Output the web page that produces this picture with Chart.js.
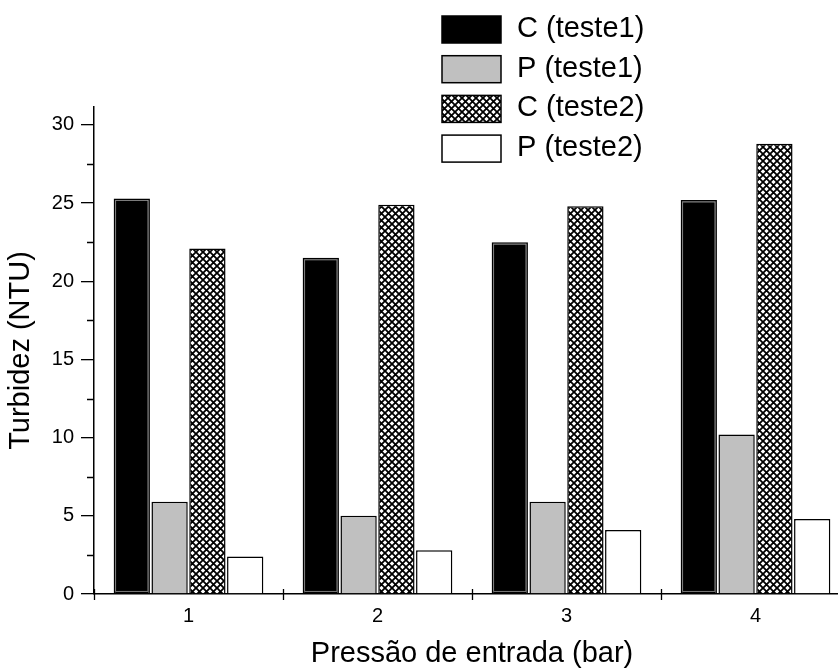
<!DOCTYPE html>
<html>
<head>
<meta charset="utf-8">
<script src="https://cdn.jsdelivr.net/npm/chart.js@4"></script>
<style>
  html, body { margin: 0; padding: 0; background: #fff; overflow: hidden; }
  #wrap { width: 850px; height: 671px; }
</style>
</head>
<body>
<div id="wrap"><canvas id="turbChart" width="850" height="671"></canvas></div>
<script>
// pressão de entrada (bar)
const categories = ['1', '2', '3', '4'];
// turbidez em NTU
const cTeste1 = [25.3, 21.5, 22.5, 25.2];
const pTeste1 = [5.9, 5.0, 5.9, 10.2];
const cTeste2 = [22.1, 24.9, 24.8, 28.8];
const pTeste2 = [2.4, 2.8, 4.1, 4.8];
const seriesLabels = ['C (teste1)', 'P (teste1)', 'C (teste2)', 'P (teste2)'];
const yTicks = [0, 5, 10, 15, 20, 25, 30];
const yMinorTicks = [2.5, 7.5, 12.5, 17.5, 22.5, 27.5];

const FONT = '"Liberation Sans", Arial, sans-serif';
Chart.defaults.font.family = FONT;
Chart.defaults.font.size = 20;
Chart.defaults.color = '#000';

// crosshatch fill
function makeHatch() {
    const c = document.createElement('canvas');
    c.width = 7; c.height = 7;
    const g = c.getContext('2d');
    g.fillStyle = '#fff';
    g.fillRect(0, 0, 7, 7);
    g.strokeStyle = '#000';
    g.lineWidth = 1.8;
    g.beginPath();
    g.moveTo(-1, -1); g.lineTo(8, 8);
    g.moveTo(8, -1); g.lineTo(-1, 8);
    g.stroke();
    return g.createPattern(c, 'repeat');
}

// thin light inner outline on the solid black bars
const innerEdge = {
    id: 'innerEdge',
    afterDatasetsDraw(chart) {
        const ctx = chart.ctx;
        const meta = chart.getDatasetMeta(0);
        ctx.save();
        ctx.strokeStyle = '#9a9a9a';
        ctx.lineWidth = 0.8;
        meta.data.forEach(bar => {
            const p = bar.getProps(['x', 'y', 'base', 'width']);
            const l = p.x - p.width / 2 + 2, r = p.x + p.width / 2 - 2;
            ctx.strokeRect(l, p.y + 2, r - l, p.base - p.y - 4);
        });
        ctx.restore();
    }
};

// extra axis marks + legend
const axisMarks = {
    id: 'axisMarks',
    afterDraw(chart) {
        const ctx = chart.ctx;
        const x = chart.scales.x, y = chart.scales.y;
        ctx.save();
        ctx.strokeStyle = '#000';
        ctx.lineWidth = 1.3;
        ctx.beginPath();
        for (const v of yMinorTicks) {
            const py = Math.round(y.getPixelForValue(v)) + 0.5;
            ctx.moveTo(x.left - 7, py); ctx.lineTo(x.left, py);
        }
        for (let i = 0; i <= categories.length; i++) {
            const px = Math.round(x.getPixelForValue(i - 0.5)) + 0.5;
            ctx.moveTo(px, y.bottom - 5); ctx.lineTo(px, y.bottom + 6);
        }
        ctx.stroke();

        // legend
        ctx.font = '29px ' + FONT;
        ctx.textBaseline = 'middle';
        chart.data.datasets.forEach((ds, i) => {
            const top = 16 + i * 39.7;
            ctx.fillStyle = ds.backgroundColor;
            ctx.fillRect(442, top, 59, 27);
            ctx.lineWidth = 1.5;
            ctx.strokeRect(442, top, 59, 27);
            ctx.fillStyle = '#000';
            ctx.fillText(ds.label, 517, top + 13);
        });
        ctx.restore();
    }
};

const ctx = document.getElementById('turbChart').getContext('2d');
const hatch = makeHatch();
const fills = ['#000000', '#c0c0c0', hatch, '#ffffff'];
const values = [cTeste1, pTeste1, cTeste2, pTeste2];

new Chart(ctx, {
    type: 'bar',
    data: {
        labels: categories,
        datasets: values.map((d, i) => ({
            label: seriesLabels[i],
            data: d,
            backgroundColor: fills[i],
            borderColor: '#000',
            borderWidth: 1.5,
            categoryPercentage: 0.8,
            barPercentage: 0.96
        }))
    },
    plugins: [innerEdge, axisMarks],
    options: {
        responsive: false,
        animation: false,
        devicePixelRatio: 1,
        layout: { padding: { top: 107, right: 0, left: 0, bottom: 0 } },
        plugins: {
            legend: { display: false },
            tooltip: { enabled: false }
        },
        scales: {
            x: {
                afterFit(s) { s.height = 77; },
                grid: { display: false, drawTicks: false },
                border: { display: true, color: '#000', width: 1.5 },
                ticks: { color: '#000', padding: 10, font: { size: 20 } },
                title: {
                    display: true,
                    text: 'Pressão de entrada (bar)',
                    color: '#000',
                    font: { size: 29 },
                    padding: { top: 0, bottom: 0 }
                }
            },
            y: {
                min: 0,
                max: 31.15,
                afterFit(s) { s.width = 94; },
                afterBuildTicks(s) { s.ticks = yTicks.map(v => ({ value: v })); },
                grid: { drawOnChartArea: false, drawTicks: true, tickLength: 13, color: '#000', lineWidth: 1.3 },
                border: { display: true, color: '#000', width: 1.5 },
                ticks: { color: '#000', padding: 7, font: { size: 20 } },
                title: {
                    display: true,
                    text: 'Turbidez (NTU)',
                    color: '#000',
                    font: { size: 29 },
                    padding: { top: 4, bottom: 0 }
                }
            }
        }
    }
});
</script>
</body>
</html>
